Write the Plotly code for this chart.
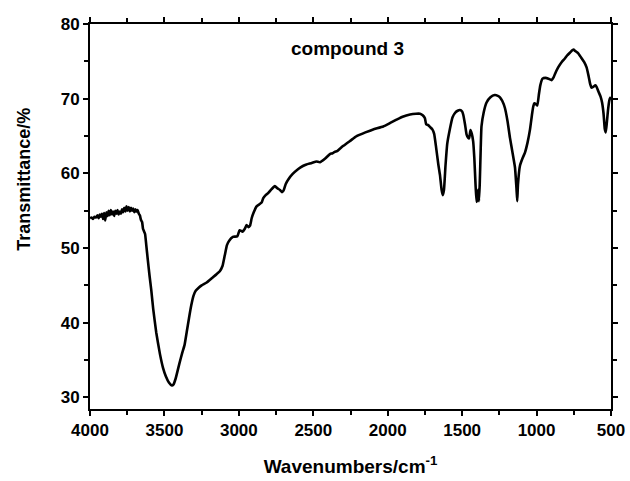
import plotly.graph_objects as go

wavenumber = [
    4000, 3990, 3980, 3970, 3960, 3950, 3942, 3935, 3928, 3920, 3912, 3905, 3898, 3890, 3882,
    3875, 3868, 3860, 3852, 3845, 3838, 3830, 3822, 3815, 3808, 3800, 3792, 3785, 3778, 3770,
    3762, 3755, 3748, 3740, 3732, 3725, 3718, 3710, 3702, 3695, 3688, 3680, 3672, 3665, 3658,
    3650, 3644, 3638, 3630, 3622, 3612, 3600, 3588, 3575, 3555, 3530, 3510, 3490, 3470, 3450,
    3440, 3425, 3400, 3380, 3365, 3350, 3335, 3320, 3305, 3290, 3270, 3250, 3216, 3180, 3150,
    3128, 3110, 3095, 3080, 3065, 3040, 3010, 2995, 2975, 2960, 2948, 2935, 2925, 2914, 2900,
    2881, 2860, 2847, 2836, 2820, 2802, 2780, 2758, 2740, 2724, 2710, 2700, 2685, 2668, 2640,
    2601, 2570, 2546, 2510, 2479, 2456, 2420, 2388, 2370, 2356, 2340, 2322, 2298, 2250, 2209,
    2150, 2098, 2030, 1980, 1941, 1900, 1850, 1810, 1783, 1765, 1750, 1742, 1730, 1715, 1700,
    1688, 1675, 1660, 1649, 1638, 1630, 1622, 1612, 1600, 1582, 1565, 1548, 1530, 1515, 1500,
    1493, 1480, 1470, 1460, 1453, 1444, 1435, 1426, 1418, 1410, 1403, 1397, 1392, 1387, 1382,
    1375, 1370, 1355, 1336, 1310, 1281, 1260, 1246, 1230, 1213, 1195, 1179, 1160, 1145, 1135,
    1130, 1125, 1112, 1095, 1078, 1060, 1044, 1030, 1022, 1015, 1005, 995, 985, 975, 960,
    940, 920, 899, 885, 877, 855, 832, 810, 795, 775, 760, 750, 740, 720, 700,
    680, 664, 650, 640, 631, 620, 605, 597, 585, 570, 560, 550, 542, 535, 528,
    520, 511, 505, 500,
]

transmittance = [
    54.0, 54.1, 53.9, 54.2, 54.1, 54.4, 54.0, 54.5, 54.2, 54.6, 53.9, 54.7, 53.7, 54.8, 54.3,
    55.0, 54.4, 55.1, 54.5, 54.9, 54.3, 55.0, 54.6, 55.1, 54.5, 54.9, 54.6, 55.2, 54.8, 55.4,
    54.9, 55.6, 55.0, 55.5, 54.9, 55.4, 55.0, 55.3, 54.8, 55.2, 54.9, 55.1, 54.6, 54.4, 53.8,
    53.5, 52.6, 52.3, 51.9, 50.4, 48.5, 46.3, 44.3, 41.8, 38.7, 35.8, 34.0, 32.8, 32.0, 31.6,
    31.7, 32.5, 34.5, 36.0, 37.0, 38.8, 40.6, 42.3, 43.6, 44.3, 44.7, 45.0, 45.4, 46.0, 46.5,
    46.9, 47.6, 49.0, 50.4, 51.0, 51.5, 51.6, 52.4, 52.2, 52.6, 53.1, 52.8, 53.0, 54.0, 54.8,
    55.6, 55.9, 56.1, 56.7, 57.1, 57.4, 57.9, 58.3, 58.0, 57.8, 57.5, 57.7, 58.6, 59.2, 59.9,
    60.6, 61.0, 61.2, 61.4, 61.6, 61.5, 62.0, 62.6, 62.7, 62.9, 63.0, 63.3, 63.7, 64.4, 65.0,
    65.5, 65.9, 66.3, 66.8, 67.2, 67.6, 67.9, 68.0, 68.0, 67.8, 67.4, 66.6, 66.5, 66.2, 65.9,
    65.3, 63.5, 61.2, 59.8, 57.8, 57.1, 57.8, 61.0, 64.0, 66.0, 67.5, 68.1, 68.4, 68.5, 68.3,
    67.9, 66.5, 65.2, 64.8, 64.7, 65.8, 65.3, 64.3, 62.0, 58.5, 56.2, 56.6, 57.8, 56.3, 58.5,
    63.5, 66.3, 68.2, 69.5, 70.2, 70.5, 70.4, 70.2, 69.7, 68.8, 67.0, 64.8, 62.6, 60.8, 58.0,
    56.3, 58.5, 61.0, 62.0, 62.8, 64.2, 65.9, 68.0, 69.0, 69.4, 69.3, 69.1, 70.5, 71.8, 72.7,
    72.8, 72.7, 72.5, 72.9, 73.3, 74.2, 74.9, 75.4, 75.8, 76.2, 76.5, 76.6, 76.4, 76.1, 75.5,
    74.9, 74.2, 73.0, 72.0, 71.5, 71.6, 71.8, 71.6, 71.0, 70.3, 69.5, 68.0, 66.0, 65.5, 66.8,
    68.5, 69.8, 70.1, 70.2,
]

x_ticks = [4000, 3500, 3000, 2500, 2000, 1500, 1000, 500]
y_ticks = [30, 40, 50, 60, 70, 80]
label = "compound 3"
x_title = "Wavenumbers/cm<sup>-1</sup>"
y_title = "Transmittance/%"

FONT = "Liberation Sans, Arial, sans-serif"

fig = go.Figure()
fig.add_trace(go.Scatter(
    x=wavenumber, y=transmittance, mode="lines",
    line=dict(color="black", width=2.6, shape="spline", smoothing=0.4),
    showlegend=False, hoverinfo="skip",
))

axis_common = dict(
    showline=True, linecolor="black", linewidth=2, mirror="allticks",
    ticks="outside", ticklen=5, tickwidth=1.5, tickcolor="black",
    showgrid=False, zeroline=False, automargin=False,
    tickfont=dict(family=FONT, size=17, color="black", weight="bold"),
)

fig.update_xaxes(
    range=[4000, 500], tickvals=x_ticks, ticktext=[str(v) for v in x_ticks],
    minor=dict(dtick=250, tick0=0, ticks="outside", ticklen=4, tickwidth=1.5, tickcolor="black"),
    title=dict(text=x_title, standoff=20,
               font=dict(family=FONT, size=19, color="black", weight="bold")),
    **axis_common,
)
fig.update_yaxes(
    range=[28.45, 80.02], tickvals=y_ticks, ticktext=[str(v) for v in y_ticks],
    minor=dict(dtick=5, tick0=0, ticks="outside", ticklen=4, tickwidth=1.5, tickcolor="black"),
    **axis_common,
)

# y-axis title placed as a rotated annotation
fig.add_annotation(
    x=-0.128, y=0.596, xref="paper", yref="paper", text=y_title, showarrow=False,
    textangle=-90, xanchor="center", yanchor="middle",
    font=dict(family=FONT, size=18, color="black", weight="bold"),
)

fig.add_annotation(
    x=0.495, y=0.97, xref="paper", yref="paper", text=label, showarrow=False,
    font=dict(family=FONT, size=19, color="black", weight="bold"),
)

fig.update_layout(
    width=630, height=481,
    margin=dict(l=90, r=19, t=24, b=72),
    paper_bgcolor="white", plot_bgcolor="white",
)

fig.write_html("out.html")
